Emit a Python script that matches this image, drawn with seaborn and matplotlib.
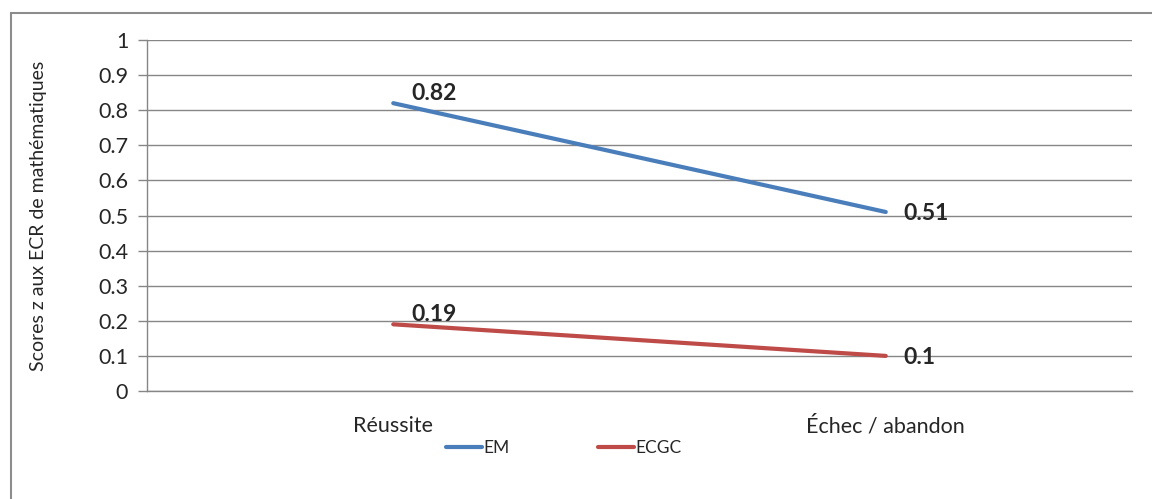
import seaborn as sns
import matplotlib.pyplot as plt
import pandas as pd
from matplotlib.patches import Rectangle
from matplotlib.lines import Line2D

# data
categories = ["Réussite", "Échec / abandon"]
em_scores = [0.82, 0.51]
ecgc_scores = [0.19, 0.1]
series_names = ["EM", "ECGC"]
colors = ["#4A7EBB", "#BE4B48"]

df = pd.DataFrame({
    "groupe": categories * 2,
    "score": em_scores + ecgc_scores,
    "serie": [series_names[0]] * 2 + [series_names[1]] * 2,
})

sns.set_style("white")
plt.rcParams["font.family"] = ["Lato", "DejaVu Sans"]

fig = plt.figure(figsize=(11.52, 4.99), dpi=100)
ax = fig.add_axes([147 / 1152, 1 - 391 / 499, 985 / 1152, 351 / 499])

sns.lineplot(data=df, x="groupe", y="score", hue="serie", palette=colors,
             linewidth=3, ax=ax, legend=False, sort=False)

# data labels
for vals in [em_scores, ecgc_scores]:
    for i, v in enumerate(vals):
        dy = 7 if i == 0 else -1
        ax.annotate(f"{v:g}", (i, v), xytext=(13, dy), textcoords="offset points",
                    fontsize=16.5, fontweight="bold", va="center", ha="left")

ax.set_xlim(-0.5, 1.5)
ax.set_ylim(0, 1)
ax.set_yticks([i / 10 for i in range(11)])
ax.set_yticklabels(["0"] + [f"{i / 10:.1f}" for i in range(1, 10)] + ["1"])
ax.set_xticks([0, 1])
ax.set_xticklabels(categories)
ax.set_xticks([-0.5, 0.5, 1.5], minor=True)
ax.tick_params(axis="x", which="major", length=0, pad=18, labelsize=15.5)
ax.tick_params(axis="x", which="minor", length=6, width=1, color="#868686", direction="out")
ax.tick_params(axis="y", length=6.5, width=1, color="#868686", direction="out",
               pad=7, labelsize=15.5, left=True)

ax.grid(axis="y", color="#868686", linewidth=1)
ax.grid(axis="x", visible=False)
for side in ["top", "right"]:
    ax.spines[side].set_visible(False)
for side in ["left", "bottom"]:
    ax.spines[side].set_color("#868686")
    ax.spines[side].set_linewidth(1)

ax.set_xlabel("")
ax.set_ylabel("Scores z aux ECR de mathématiques", fontsize=14)
ax.yaxis.set_label_coords(-100 / 985, 0.5)

handles = [Line2D([], [], color=c, linewidth=3) for c in colors]
fig.legend(handles, series_names, loc="center", bbox_to_anchor=(563.5 / 1152, 1 - 448 / 499),
           ncol=2, frameon=False, fontsize=12.5, handlelength=2.1, handletextpad=0.05,
           columnspacing=5.1)

# outer chart border
fig.patches.append(Rectangle((11 / 1152, -0.05), 1.1, 1 - 13 / 499 + 0.05,
                             transform=fig.transFigure, fill=False,
                             edgecolor="#8C8C8C", linewidth=1.5))

fig.savefig("out.png", dpi=100)
